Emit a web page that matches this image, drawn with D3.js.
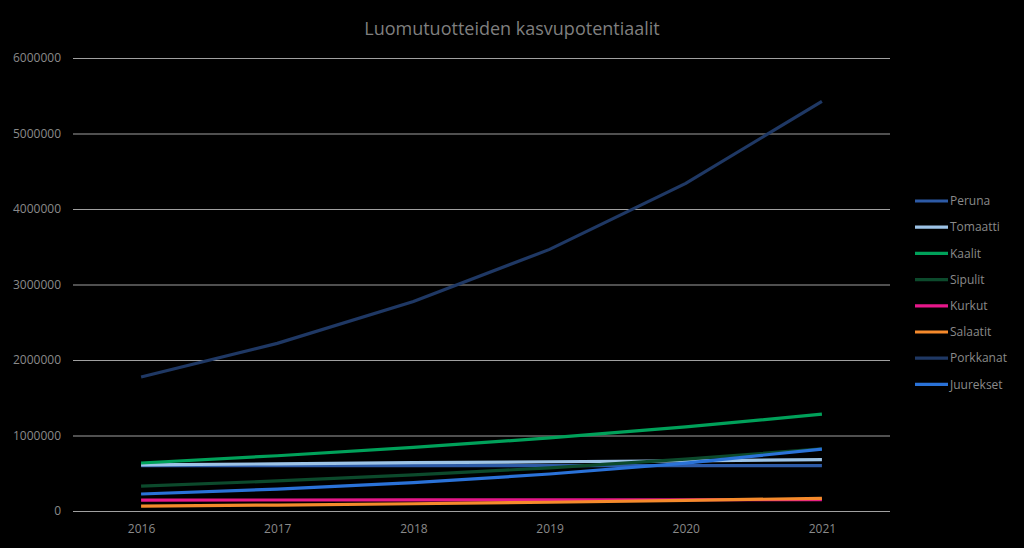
<!DOCTYPE html>
<html>
<head>
<meta charset="utf-8">
<script src="https://cdn.jsdelivr.net/npm/d3@7"></script>
<style>
  body { margin: 0; background: #000; }
  text { font-family: "Open Sans", "Liberation Sans", sans-serif; fill: #8a8a8a; }
</style>
</head>
<body>
<script>
var years = ['2016', '2017', '2018', '2019', '2020', '2021'];
var seriesNames = ['Peruna', 'Tomaatti', 'Kaalit', 'Sipulit', 'Kurkut', 'Salaatit', 'Porkkanat', 'Juurekset'];
var seriesColors = ['#2d5aa6', '#9dc3e6', '#00a15a', '#0c4a2c', '#e6178a', '#f58a2c', '#1f3864', '#2a72d8'];
var peruna = [600000, 600000, 600000, 600000, 600000, 600000];
var tomaatti = [610000, 625000, 640000, 652000, 665000, 680000];
var kaalit = [636000, 732000, 842000, 968000, 1113000, 1282000];
var sipulit = [330000, 398000, 478000, 572000, 688000, 822000];
var kurkut = [145000, 146000, 147000, 148000, 149000, 150000];
var salaatit = [65000, 79000, 96000, 116000, 140000, 168000];
var porkkanat = [1775000, 2220000, 2775000, 3465000, 4340000, 5425000];
var juurekset = [225000, 290000, 375000, 490000, 635000, 820000];
var yTicks = [0, 1000000, 2000000, 3000000, 4000000, 5000000, 6000000];

var seriesValues = [peruna, tomaatti, kaalit, sipulit, kurkut, salaatit, porkkanat, juurekset];

var margin = { top: 58, right: 134, bottom: 37, left: 73 };
var width = 1024 - margin.left - margin.right;
var height = 548 - margin.top - margin.bottom;

var svg = d3.select('body').append('svg')
  .attr('width', 1024)
  .attr('height', 548)
  .style('background', '#000');

svg.append('text')
  .attr('x', 512)
  .attr('y', 35)
  .attr('text-anchor', 'middle')
  .style('font-size', '18px')
  .style('fill', '#7f7f7f')
  .text('Luomutuotteiden kasvupotentiaalit');

var g = svg.append('g')
  .attr('transform', 'translate(' + margin.left + ',' + margin.top + ')');

var x = d3.scalePoint().domain(years).range([0, width]).padding(0.5);
var y = d3.scaleLinear().domain([0, 6000000]).range([height, 0]);

// gridlines + y labels
var yAxis = d3.axisLeft(y).tickValues(yTicks).tickSize(-width).tickFormat(d3.format('d'));
var yg = g.append('g').call(yAxis);
yg.select('.domain').remove();
yg.selectAll('.tick line').attr('stroke', '#a0a0a0').attr('stroke-width', 1);
yg.selectAll('.tick text').attr('x', -12).style('font-size', '12px').style('fill', '#8a8a8a');

var xAxis = d3.axisBottom(x).tickSize(0);
var xg = g.append('g').attr('transform', 'translate(0,' + height + ')').call(xAxis);
xg.select('.domain').remove();
xg.selectAll('.tick text').attr('dy', '1.6em').style('font-size', '12px').style('fill', '#8a8a8a');

var line = d3.line()
  .x(function (d, i) { return x(years[i]); })
  .y(function (d) { return y(d); });

seriesValues.forEach(function (vals, i) {
  g.append('path')
    .attr('d', line(vals))
    .attr('fill', 'none')
    .attr('stroke', seriesColors[i])
    .attr('stroke-width', 3.2)
    .attr('stroke-linecap', 'butt');
});

// legend
var legend = svg.append('g').attr('transform', 'translate(915,201)');
seriesNames.forEach(function (name, i) {
  var row = legend.append('g').attr('transform', 'translate(0,' + (i * 26.2) + ')');
  row.append('line')
    .attr('x1', 0).attr('x2', 33)
    .attr('stroke', seriesColors[i])
    .attr('stroke-width', 3.2);
  row.append('text')
    .attr('x', 35)
    .attr('dy', '0.35em')
    .style('font-size', '12px')
    .style('fill', '#8a8a8a')
    .text(name);
});
</script>
</body>
</html>
